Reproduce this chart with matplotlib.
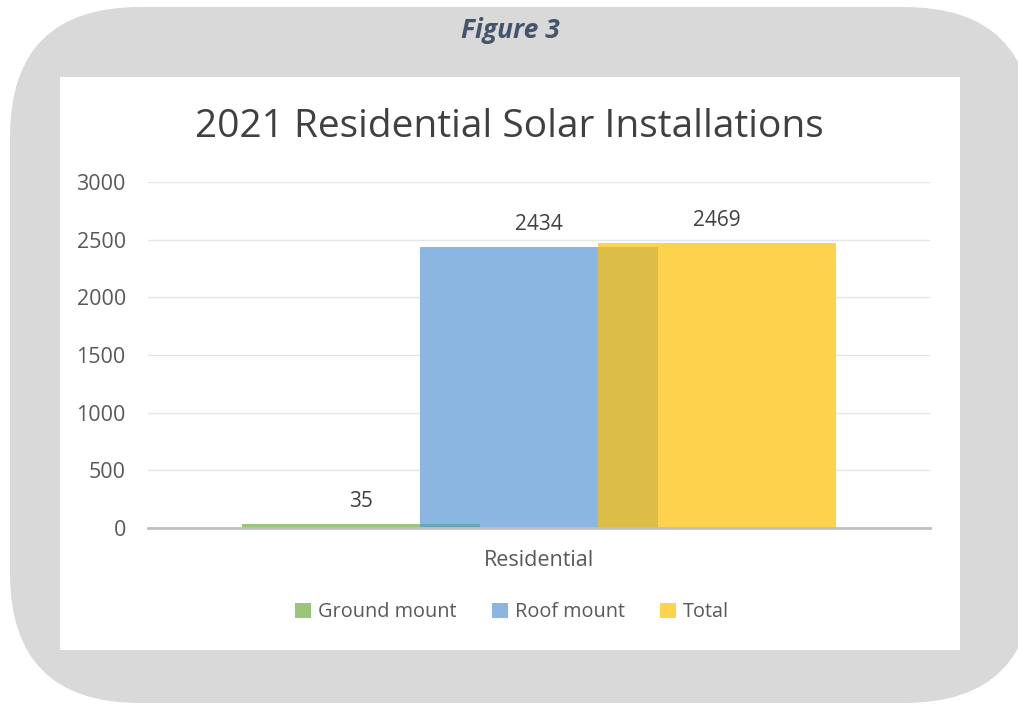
import matplotlib
matplotlib.use("Agg")
import matplotlib.pyplot as plt
from matplotlib.patches import FancyBboxPatch, Rectangle

plt.rcParams['font.family'] = ['Open Sans', 'DejaVu Sans']

# dados do gráfico
categoria = ["Residential"]
series = ["Ground mount", "Roof mount", "Total"]
valores = [35, 2434, 2469]
cores = ["#9BC67A", "#8AB6E1", "#FDD24D"]
# cor onde a barra anterior fica atrás da seguinte
cores_sobrepostas = ["#67A6B8", "#DBBD47"]

fig = plt.figure(figsize=(10.18, 7.05), dpi=100)
fig.patch.set_facecolor("white")

# fundo: caixa cinza arredondada e retângulo branco (em pixels)
fundo = fig.add_axes([0, 0, 1, 1])
fundo.set_xlim(0, 1018)
fundo.set_ylim(705, 0)
fundo.axis("off")
fundo.add_patch(FancyBboxPatch((10, 7), 1024, 696,
                               boxstyle="round,pad=0,rounding_size=130",
                               facecolor="#D9D9D9", edgecolor="none"))
fundo.add_patch(Rectangle((60, 77), 900, 573, facecolor="white", edgecolor="none"))
fundo.text(510, 31, "Figure 3", ha="center", va="center", fontsize=19,
           fontweight="bold", fontstyle="italic", color="#44546A")

ax = fig.add_axes([0.1454, 0.2511, 0.7682, 0.4907])
ax.set_facecolor("none")

passo = 0.2276
largura = 0.3043
barras = []
for i, (nome, valor, cor) in enumerate(zip(series, valores, cores)):
    x = (i - 1) * passo
    b = ax.bar(x, valor, width=largura, color=cor, label=nome, zorder=3)
    barras.append(b[0])
    ax.text(x, valor + 105, str(valor), ha="center", va="bottom",
            fontsize=15, color="#404040")

# trecho de sobreposição: repete a barra anterior recortada pela seguinte
for i in range(1, len(barras)):
    x = (i - 2) * passo
    sob = ax.bar(x, valores[i - 1], width=largura, color=cores_sobrepostas[i - 1], zorder=4)
    sob[0].set_clip_path(barras[i])

ax.set_xlim(-0.5, 0.5)
ax.set_ylim(0, 3000)
ax.set_yticks(range(0, 3001, 500))
ax.set_xticks([0])
ax.set_xticklabels(categoria)
ax.tick_params(axis="both", length=0, labelsize=15.5, labelcolor="#595959")
ax.tick_params(axis="y", pad=16)
ax.tick_params(axis="x", pad=16)
ax.grid(axis="y", color="#E6E6E6", linewidth=1, zorder=0)
for lado in ["top", "right", "left"]:
    ax.spines[lado].set_visible(False)
ax.spines["bottom"].set_color("#BFBFBF")
ax.spines["bottom"].set_linewidth(2)
ax.spines["bottom"].set_zorder(5)

fig.text(0.5, 1 - 127 / 705, "2021 Residential Solar Installations", ha="center",
         va="center", fontsize=28, color="#404040")

fig.legend(handles=barras, labels=series, loc="center", bbox_to_anchor=(0.503, 1 - 612 / 705),
           ncol=3, frameon=False, fontsize=14.3, handlelength=0.8, handleheight=0.8,
           handletextpad=0.35, columnspacing=1.8, labelcolor="#595959")

fig.savefig("out.png", dpi=100)
